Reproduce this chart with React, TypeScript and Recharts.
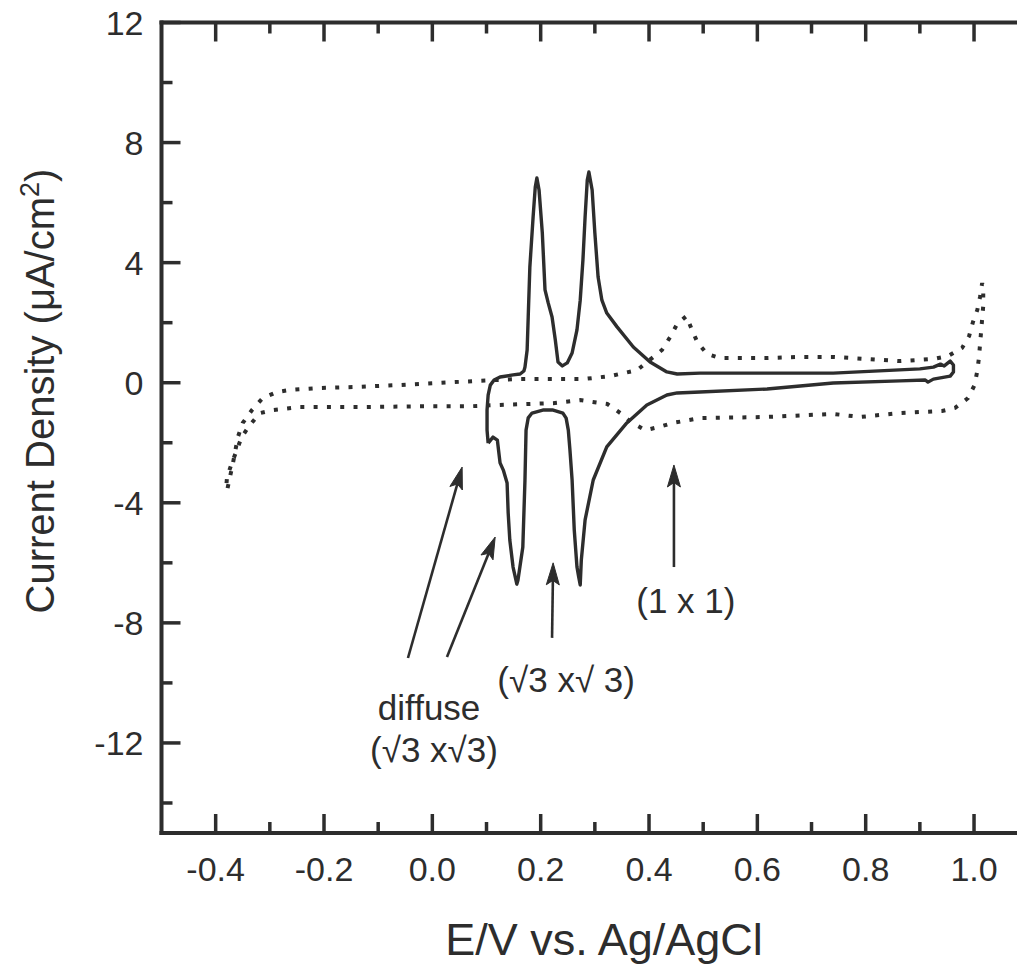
import React from 'react';
import { LineChart, Line, XAxis, YAxis, ReferenceLine, ReferenceDot } from 'recharts';

// Solid CV (potential in V vs Ag/AgCl, current density in µA/cm²)
const solidE = [
  0.103, 0.101, 0.101, 0.103, 0.107, 0.114, 0.125, 0.149, 0.162, 0.169,
  0.171, 0.175, 0.177, 0.180, 0.186, 0.190, 0.193, 0.197, 0.203, 0.208,
  0.214, 0.221, 0.227, 0.232, 0.240, 0.249, 0.258, 0.267, 0.273, 0.278,
  0.282, 0.286, 0.289, 0.295, 0.300, 0.306, 0.313, 0.322, 0.341, 0.371,
  0.402, 0.433, 0.452, 0.494, 0.740, 0.900, 0.925, 0.938, 0.945, 0.956,
  0.962, 0.962, 0.956, 0.925, 0.915, 0.910, 0.863, 0.740, 0.618, 0.494,
  0.452, 0.433, 0.396, 0.359, 0.322, 0.297, 0.282, 0.275, 0.273, 0.270,
  0.267, 0.262, 0.258, 0.254, 0.251, 0.247, 0.241, 0.223, 0.204, 0.184,
  0.177, 0.173, 0.171, 0.167, 0.158, 0.156, 0.149, 0.143, 0.140, 0.138,
  0.131, 0.125, 0.120, 0.112, 0.103,
];
const solidJ = [
  -2.01, -1.58, -0.91, -0.41, -0.08, 0.09, 0.19, 0.26, 0.29, 0.39,
  0.52, 1.09, 2.19, 3.85, 5.52, 6.52, 6.82, 6.42, 4.99, 3.09,
  2.65, 2.19, 1.42, 0.69, 0.56, 0.66, 0.99, 1.76, 2.75, 4.09,
  5.52, 6.75, 7.02, 6.42, 4.99, 3.52, 2.75, 2.32, 1.86, 1.19,
  0.69, 0.36, 0.29, 0.32, 0.32, 0.46, 0.52, 0.62, 0.56, 0.72,
  0.59, 0.36, 0.22, 0.12, 0.02, 0.09, 0.06, -0.01, -0.21, -0.31,
  -0.34, -0.41, -0.74, -1.34, -2.14, -3.24, -4.57, -5.91, -6.74, -6.45,
  -6.14, -4.91, -3.24, -2.24, -1.58, -1.18, -1.01, -0.91, -0.91, -1.01,
  -1.17, -1.58, -3.24, -5.48, -6.58, -6.71, -6.14, -5.24, -4.34, -3.34,
  -2.91, -2.67, -1.91, -1.81, -2.01,
];

// Dotted CV
const dottedE = [
  -0.378, -0.368, -0.359, -0.350, -0.333, -0.313, -0.287, -0.263, -0.213, -0.139,
  -0.065, 0.009, 0.082, 0.156, 0.204, 0.278, 0.328, 0.378, 0.424, 0.439,
  0.452, 0.469, 0.478, 0.489, 0.507, 0.531, 0.618, 0.679, 0.740, 0.803,
  0.864, 0.925, 0.952, 0.978, 0.991, 0.998, 1.006, 1.011, 1.015,
  1.017, 1.017, 1.015, 1.013, 1.011, 1.009, 1.006, 1.001, 0.989, 0.965,
  0.941, 0.864, 0.790, 0.740, 0.618, 0.494, 0.444, 0.417, 0.393, 0.369,
  0.347, 0.323, 0.296, 0.273, 0.223, 0.175, 0.125, 0.075, 0.001, -0.121,
  -0.244, -0.294, -0.318, -0.337, -0.352, -0.361, -0.370, -0.379, -0.381,
];
const dottedJ = [
  -3.51, -2.67, -1.81, -1.34, -0.91, -0.51, -0.31, -0.24, -0.18, -0.14,
  -0.08, -0.01, 0.06, 0.12, 0.12, 0.12, 0.22, 0.42, 1.09, 1.52,
  1.96, 2.22, 1.82, 1.36, 0.96, 0.82, 0.82, 0.86, 0.86, 0.79,
  0.72, 0.79, 0.89, 1.16, 1.56, 2.02, 2.42, 2.85, 3.32,
  2.99, 2.56, 2.13, 1.69, 1.26, 0.82, 0.39, -0.08, -0.51, -0.84,
  -0.94, -1.01, -1.14, -1.04, -1.14, -1.18, -1.34, -1.48, -1.58, -1.34,
  -1.01, -0.71, -0.64, -0.58, -0.68, -0.71, -0.74, -0.78, -0.78, -0.81,
  -0.81, -0.91, -1.01, -1.41, -1.81, -2.24, -2.67, -3.14, -3.57,
];

const xMajorTicks = [-0.4, -0.2, 0.0, 0.2, 0.4, 0.6, 0.8, 1.0];
const xTickLabels = ['-0.4', '-0.2', '0.0', '0.2', '0.4', '0.6', '0.8', '1.0'];
const xMinorTicks = [-0.3, -0.1, 0.1, 0.3, 0.5, 0.7, 0.9];
const yMajorTicks = [12, 8, 4, 0, -4, -8, -12];
const yTickLabels = ['12', '8', '4', '0', '-4', '-8', '-12'];
const yMinorTicks = [10, 6, 2, -2, -6, -10, -14];

const xDomain = [-0.5, 1.1];
const yDomain = [-15, 12];

// annotation arrows: tail -> head (data coordinates)
const arrowTailE = [-0.045, 0.027, 0.221, 0.446];
const arrowTailJ = [-9.17, -9.14, -8.5, -6.14];
const arrowHeadE = [0.055, 0.116, 0.223, 0.446];
const arrowHeadJ = [-2.81, -5.14, -6.0, -2.74];

const noteTexts = ['diffuse', '(√3 x√3)', '(√3 x√ 3)', '(1 x 1)'];
const noteE = [-0.006, 0.003, 0.247, 0.468];
const noteJ = [-11.24, -12.64, -10.3, -7.67];

const solidData = solidE.map((x, i) => ({ x, y: solidJ[i] }));
const dottedData = dottedE.map((x, i) => ({ x, y: dottedJ[i] }));

const INK = '#2d2d2d';
const FONT = '"Liberation Sans", Arial, Helvetica, sans-serif';
const MAJ = 19;
const MIN = 11;

const makeVTick = (len: number) => (props: any) => {
  const { x1, y1, y2 } = props;
  const top = Math.min(y1, y2);
  const bottom = Math.max(y1, y2);
  return (
    <g>
      <line x1={x1} x2={x1} y1={top} y2={top + len} stroke={INK} strokeWidth={3.5} />
      <line x1={x1} x2={x1} y1={bottom} y2={bottom - len} stroke={INK} strokeWidth={3.5} />
    </g>
  );
};

const makeHTick = (len: number) => (props: any) => {
  const { x1, x2, y1 } = props;
  const left = Math.min(x1, x2);
  return <line x1={left} x2={left + len} y1={y1} y2={y1} stroke={INK} strokeWidth={3.5} />;
};

const TopFrame = (props: any) => {
  const { x1, x2, y1 } = props;
  const left = Math.min(x1, x2) - 2;
  const right = Math.max(x1, x2) + 2;
  return <line x1={left} x2={right} y1={y1} y2={y1} stroke={INK} strokeWidth={4} />;
};

const BottomLabel = (props: any) => {
  const { x, y, payload } = props;
  const i = xMajorTicks.findIndex((t) => Math.abs(t - payload.value) < 1e-6);
  if (i < 0) return <g />;
  return (
    <text x={x} y={y + 48} textAnchor="middle" fontSize={34} fontFamily={FONT} fill={INK}>
      {xTickLabels[i]}
    </text>
  );
};

const LeftLabel = (props: any) => {
  const { x, y, payload } = props;
  const i = yMajorTicks.findIndex((t) => Math.abs(t - payload.value) < 1e-6);
  if (i < 0) return <g />;
  return (
    <text x={x - 18} y={y + 12} textAnchor="end" fontSize={34} fontFamily={FONT} fill={INK}>
      {yTickLabels[i]}
    </text>
  );
};

const ArrowShape = (props: any) => {
  const { x1, y1, x2, y2 } = props;
  const dx = x2 - x1;
  const dy = y2 - y1;
  const L = Math.sqrt(dx * dx + dy * dy) || 1;
  const ux = dx / L;
  const uy = dy / L;
  const hl = 22;
  const hw = 6.5;
  const bx = x2 - ux * hl;
  const by = y2 - uy * hl;
  const nx = -uy;
  const ny = ux;
  const pts = `${x2},${y2} ${bx + nx * hw},${by + ny * hw} ${x2 - ux * hl * 0.8},${y2 - uy * hl * 0.8} ${bx - nx * hw},${by - ny * hw}`;
  return (
    <g>
      <line x1={x1} y1={y1} x2={x2 - ux * 12} y2={y2 - uy * 12} stroke={INK} strokeWidth={2.6} />
      <polygon points={pts} fill={INK} stroke={INK} strokeWidth={1} />
    </g>
  );
};

const makeNote = (text: string) => (props: any) => (
  <text x={props.cx} y={props.cy} textAnchor="middle" fontSize={35} fontFamily={FONT} fill={INK}>
    {text}
  </text>
);

const XTitle = () => (
  <text x={604} y={955} textAnchor="middle" fontSize={45} fontFamily={FONT} fill={INK}>
    E/V vs. Ag/AgCl
  </text>
);

const YTitle = () => (
  <text
    x={54}
    y={391}
    transform="rotate(-90 54 391)"
    textAnchor="middle"
    fontSize={40}
    fontFamily={FONT}
    fill={INK}
  >
    Current Density (μA/cm
    <tspan dy={-15} fontSize={27}>2</tspan>
    <tspan dy={15}>)</tspan>
  </text>
);

export default function App() {
  return (
    <div
      style={{
        position: 'absolute',
        left: 0,
        top: 0,
        width: 1017,
        height: 964,
        overflow: 'hidden',
        background: '#fff',
      }}
    >
      <LineChart
        width={1060}
        height={964}
        margin={{ top: 22.5, right: 31.8, bottom: 31, left: 61.5 }}
      >
        <XAxis
          xAxisId="b"
          type="number"
          dataKey="x"
          domain={xDomain}
          allowDataOverflow
          ticks={xMajorTicks}
          interval={0}
          tickSize={0}
          tickMargin={0}
          tickLine={false}
          tick={BottomLabel}
          axisLine={{ stroke: INK, strokeWidth: 4, strokeLinecap: 'square' }}
          height={100}
          label={{ content: XTitle }}
        />
        <YAxis
          yAxisId="l"
          type="number"
          dataKey="y"
          domain={yDomain}
          allowDataOverflow
          ticks={yMajorTicks}
          interval={0}
          tickSize={0}
          tickMargin={0}
          tickLine={false}
          tick={LeftLabel}
          axisLine={{ stroke: INK, strokeWidth: 4, strokeLinecap: 'square' }}
          width={100}
          label={{ content: YTitle }}
        />
        <ReferenceLine xAxisId="b" yAxisId="l" y={yDomain[1]} shape={TopFrame} />
        {xMajorTicks.map((v) => (
          <ReferenceLine key={`xM${v}`} xAxisId="b" yAxisId="l" x={v} shape={makeVTick(MAJ)} />
        ))}
        {xMinorTicks.map((v) => (
          <ReferenceLine key={`xm${v}`} xAxisId="b" yAxisId="l" x={v} shape={makeVTick(MIN)} />
        ))}
        {yMajorTicks.map((v) => (
          <ReferenceLine key={`yM${v}`} xAxisId="b" yAxisId="l" y={v} shape={makeHTick(MAJ)} />
        ))}
        {yMinorTicks.map((v) => (
          <ReferenceLine key={`ym${v}`} xAxisId="b" yAxisId="l" y={v} shape={makeHTick(MIN)} />
        ))}
        <Line
          xAxisId="b"
          yAxisId="l"
          data={dottedData}
          dataKey="y"
          type="linear"
          stroke={INK}
          strokeWidth={4}
          strokeDasharray="4 9.3"
          strokeLinecap="butt"
          dot={false}
          activeDot={false}
          isAnimationActive={false}
        />
        <Line
          xAxisId="b"
          yAxisId="l"
          data={solidData}
          dataKey="y"
          type="linear"
          stroke={INK}
          strokeWidth={3.4}
          strokeLinejoin="round"
          dot={false}
          activeDot={false}
          isAnimationActive={false}
        />
        {arrowTailE.map((e, i) => (
          <ReferenceLine
            key={`arrow-${i}`}
            xAxisId="b"
            yAxisId="l"
            segment={[
              { x: e, y: arrowTailJ[i] },
              { x: arrowHeadE[i], y: arrowHeadJ[i] },
            ]}
            shape={ArrowShape}
          />
        ))}
        {noteTexts.map((t, i) => (
          <ReferenceDot
            key={`note-${i}`}
            xAxisId="b"
            yAxisId="l"
            x={noteE[i]}
            y={noteJ[i]}
            r={0}
            shape={makeNote(t)}
          />
        ))}
      </LineChart>
    </div>
  );
}
